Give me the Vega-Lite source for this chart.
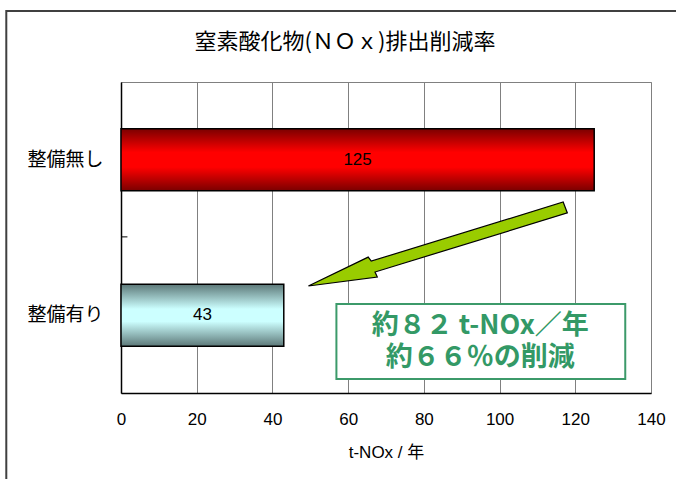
{
  "$schema": "https://vega.github.io/schema/vega-lite/v6.json",
  "width": 530,
  "height": 311,
  "autosize": "none",
  "padding": {"left": 121, "top": 82, "right": 25, "bottom": 86},
  "background": "white",
  "config": {
    "view": {"stroke": "#808080", "strokeWidth": 1},
    "font": "Liberation Sans"
  },
  "title": {
    "text": "窒素酸化物(ＮＯｘ)排出削減率",
    "font": "Noto Sans CJK JP",
    "fontSize": 22,
    "fontWeight": "normal",
    "color": "#000000",
    "anchor": "middle",
    "frame": "group",
    "dx": -41,
    "offset": -44
  },
  "datasets": {
    "bars": [
      {"case": "整備無し", "value": 125},
      {"case": "整備有り", "value": 43}
    ],
    "frame": [{"x1": -30.3, "x2": 160, "y1": -40, "y2": 122.8}],
    "arrow": [
      {"i": 1, "x": 49.5, "ay": 34.4},
      {"i": 2, "x": 65.3, "ay": 43.7},
      {"i": 3, "x": 66.1, "ay": 42.4},
      {"i": 4, "x": 116.8, "ay": 61.4},
      {"i": 5, "x": 117.9, "ay": 57.9},
      {"i": 6, "x": 67.1, "ay": 38.9},
      {"i": 7, "x": 67.7, "ay": 37.3},
      {"i": 8, "x": 49.5, "ay": 34.4}
    ],
    "box": [{"x1": 56.9, "x2": 133.2, "y1": 4.5, "y2": 28.6}],
    "boxtext": [
      {"t": "約８２ t-NOx／年\n約６６％の削減", "x": 94.9, "ay": 21.5}
    ],
    "ytick": [{"x1": 0, "x2": 1.7, "ay": 50.2}]
  },
  "layer": [
    {
      "layer": [
        {
          "data": {"name": "frame"},
          "mark": {"type": "rect", "fill": null, "stroke": "#404040", "strokeWidth": 2, "clip": false},
          "encoding": {
            "x": {"field": "x1", "type": "quantitative", "scale": {"domain": [0, 140], "nice": false, "zero": false}},
            "x2": {"field": "x2"},
            "y": {"field": "y1", "type": "quantitative", "scale": {"domain": [0, 100], "nice": false, "zero": false}, "axis": null},
            "y2": {"field": "y2"}
          }
        }
      ]
    },
    {
      "data": {"name": "bars"},
      "layer": [
        {
          "transform": [{"filter": "datum.case === '整備無し'"}],
          "mark": {
            "type": "bar",
            "stroke": "#000000",
            "strokeWidth": 1.5,
            "fill": {
              "gradient": "linear", "x1": 0, "y1": 0, "x2": 0, "y2": 1,
              "stops": [
                {"offset": 0, "color": "#7a0000"},
                {"offset": 0.38, "color": "#ff0000"},
                {"offset": 0.62, "color": "#ff0000"},
                {"offset": 1, "color": "#7a0000"}
              ]
            }
          },
          "encoding": {
            "y": {"field": "case", "type": "nominal"},
            "x": {"field": "value", "type": "quantitative"}
          }
        },
        {
          "transform": [{"filter": "datum.case === '整備有り'"}],
          "mark": {
            "type": "bar",
            "stroke": "#000000",
            "strokeWidth": 1.5,
            "fill": {
              "gradient": "linear", "x1": 0, "y1": 0, "x2": 0, "y2": 1,
              "stops": [
                {"offset": 0, "color": "#5c7878"},
                {"offset": 0.4, "color": "#ccffff"},
                {"offset": 0.6, "color": "#ccffff"},
                {"offset": 1, "color": "#5c7878"}
              ]
            }
          },
          "encoding": {
            "y": {"field": "case", "type": "nominal"},
            "x": {"field": "value", "type": "quantitative"}
          }
        },
        {
          "transform": [{"calculate": "datum.value / 2", "as": "mid"}],
          "mark": {"type": "text", "fontSize": 17, "font": "Liberation Sans", "color": "#000000"},
          "encoding": {
            "y": {"field": "case", "type": "nominal"},
            "x": {"field": "mid", "type": "quantitative"},
            "text": {"field": "value", "type": "quantitative"}
          }
        }
      ],
      "encoding": {
        "y": {
          "field": "case",
          "type": "nominal",
          "scale": {"domain": ["整備無し", "整備有り"], "paddingInner": 0.6, "paddingOuter": 0.3},
          "axis": {
            "title": null,
            "labelFont": "Noto Sans CJK JP",
            "labelFontSize": 19,
            "labelColor": "#000000",
            "labelPadding": 18,
            "ticks": false,
            "domainColor": "#000000",
            "domainWidth": 1.5
          }
        },
        "x": {
          "field": "value",
          "type": "quantitative",
          "scale": {"domain": [0, 140], "nice": false},
          "axis": {
            "title": "t-NOx / 年",
            "titleFont": "Liberation Sans, Noto Sans CJK JP",
            "titleFontSize": 17,
            "titleFontWeight": "normal",
            "titleColor": "#000000",
            "titlePadding": 17,
            "values": [0, 20, 40, 60, 80, 100, 120, 140],
            "labelFontSize": 17,
            "labelColor": "#000000",
            "labelPadding": 18,
            "labelFlush": false,
            "ticks": false,
            "grid": true,
            "gridColor": "#808080",
            "gridOpacity": 1,
            "domainColor": "#000000",
            "domainWidth": 1.5
          }
        }
      }
    },
    {
      "layer": [
        {
          "data": {"name": "ytick"},
          "mark": {"type": "rule", "color": "#000000", "strokeWidth": 1},
          "encoding": {
            "x": {"field": "x1", "type": "quantitative"},
            "x2": {"field": "x2"},
            "y": {"field": "ay", "type": "quantitative", "scale": {"domain": [0, 100], "nice": false, "zero": false}, "axis": null}
          }
        },
        {
          "data": {"name": "arrow"},
          "mark": {"type": "line", "fill": "#99cc00", "stroke": "#000000", "strokeWidth": 1.2, "strokeJoin": "miter"},
          "encoding": {
            "x": {"field": "x", "type": "quantitative"},
            "y": {"field": "ay", "type": "quantitative", "scale": {"domain": [0, 100], "nice": false, "zero": false}, "axis": null},
            "order": {"field": "i", "type": "quantitative"}
          }
        },
        {
          "data": {"name": "box"},
          "mark": {"type": "rect", "fill": "#ffffff", "stroke": "#3c9a6a", "strokeWidth": 2},
          "encoding": {
            "x": {"field": "x1", "type": "quantitative"},
            "x2": {"field": "x2"},
            "y": {"field": "y1", "type": "quantitative", "scale": {"domain": [0, 100], "nice": false, "zero": false}, "axis": null},
            "y2": {"field": "y2"}
          }
        },
        {
          "data": {"name": "boxtext"},
          "mark": {"type": "text", "font": "Noto Sans CJK JP", "fontSize": 27, "fontWeight": "bold", "color": "#339966", "baseline": "middle", "align": "center", "lineBreak": "\n", "lineHeight": 32},
          "encoding": {
            "x": {"field": "x", "type": "quantitative"},
            "y": {"field": "ay", "type": "quantitative", "scale": {"domain": [0, 100], "nice": false, "zero": false}, "axis": null},
            "text": {"field": "t", "type": "nominal"}
          }
        }
      ]
    }
  ],
  "resolve": {"scale": {"y": "independent"}, "axis": {"y": "independent"}}
}
